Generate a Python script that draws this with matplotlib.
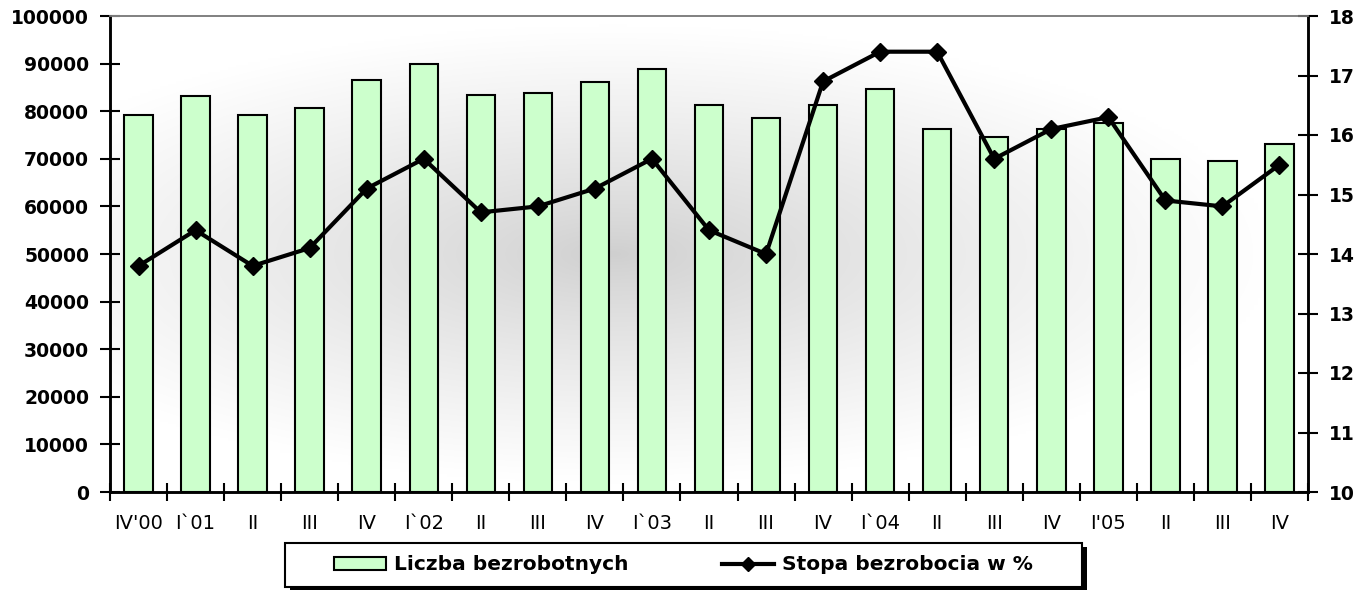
import numpy as np
import matplotlib.pyplot as plt
from matplotlib.patches import Rectangle
from matplotlib.lines import Line2D
from matplotlib.patches import Patch

# quarters IV 2000 .. IV 2005
quarters = ["IV'00", "I`01", "II", "III", "IV", "I`02", "II", "III", "IV", "I`03",
            "II", "III", "IV", "I`04", "II", "III", "IV", "I'05", "II", "III", "IV"]
unemployed = [79200, 83200, 79200, 80700, 86600, 89900, 83400, 83800, 86100, 88900,
              81300, 78600, 81300, 84700, 76300, 74600, 76300, 77500, 70000, 69600, 73100]
rate = [13.8, 14.4, 13.8, 14.1, 15.1, 15.6, 14.7, 14.8, 15.1, 15.6,
        14.4, 14.0, 16.9, 17.4, 17.4, 15.6, 16.1, 16.3, 14.9, 14.8, 15.5]

W, H = 1364, 590
fig = plt.figure(figsize=(W / 100, H / 100), dpi=100)
ax = fig.add_axes([110 / W, 98 / H, 1198 / W, 476 / H])
ax2 = ax.twinx()

# plot area gradient (grey in the middle, white towards edges)
gx, gy = np.meshgrid(np.linspace(0, 1, 300), np.linspace(0, 1, 200))
r = np.sqrt(((gx - 0.42) / 0.55) ** 2 + ((gy - 0.50) / 0.48) ** 2)
g = 0.81 + 0.19 * np.clip(r, 0, 1) ** 0.8
ax.imshow(np.dstack([g, g, g]), extent=[0, 1, 0, 1], transform=ax.transAxes,
          origin='lower', aspect='auto', zorder=0, interpolation='bilinear')

x = np.arange(len(quarters))
ax.bar(x, unemployed, width=0.5, color='#ccffcc', edgecolor='black', linewidth=1.5, zorder=2)
ax2.plot(x, rate, color='black', linewidth=3, marker='D', markersize=9.5, zorder=3)

ax.set_xlim(-0.5, len(quarters) - 0.5)
ax.set_ylim(0, 100000)
ax.set_yticks(np.arange(0, 100001, 10000))
ax2.set_ylim(10, 18)
ax2.set_yticks(np.arange(10, 19, 1))

ax.set_xticks(x)
ax.set_xticklabels(quarters, fontsize=14)
ax.set_xticks(np.arange(-0.5, len(quarters)), minor=True)
ax.tick_params(axis='x', which='major', length=0, pad=16)
ax.tick_params(axis='x', which='minor', direction='inout', length=13, width=1.5)
ax.tick_params(axis='y', direction='inout', length=14, width=1.5, pad=8, labelsize=13.5)
ax2.tick_params(axis='y', direction='inout', length=14, width=1.5, pad=8, labelsize=13.5)
for lab in ax.get_yticklabels() + ax2.get_yticklabels():
    lab.set_fontweight('bold')

for a in (ax, ax2):
    a.spines['top'].set_color('#808080')
    a.spines['top'].set_linewidth(1.2)
    for s in ('left', 'right', 'bottom'):
        a.spines[s].set_linewidth(1.8)
        a.spines[s].set_color('black')

# legend box with shadow
bx0, by0, bw, bh = 285 / W, (H - 587) / H, 797 / W, 44 / H
fig.patches.append(Rectangle((bx0 + 5 / W, by0 - 4 / H), bw, bh, transform=fig.transFigure,
                             facecolor='black', edgecolor='none', zorder=1))
fig.patches.append(Rectangle((bx0, by0), bw, bh, transform=fig.transFigure,
                             facecolor='white', edgecolor='black', linewidth=1.5, zorder=2))
handles = [Patch(facecolor='#ccffcc', edgecolor='black', linewidth=1.5),
           Line2D([], [], color='black', linewidth=3, marker='D', markersize=7)]
leg = fig.legend(handles, ['Liczba bezrobotnych', 'Stopa bezrobocia w %'], ncol=2,
                 loc='center', bbox_to_anchor=(bx0 + bw / 2, by0 + bh / 2),
                 frameon=False, prop={'weight': 'bold', 'size': 14.5},
                 handlelength=2.6, handleheight=0.6, handletextpad=0.4, columnspacing=4.6)
leg.set_zorder(3)

fig.savefig('out.png', dpi=100)
